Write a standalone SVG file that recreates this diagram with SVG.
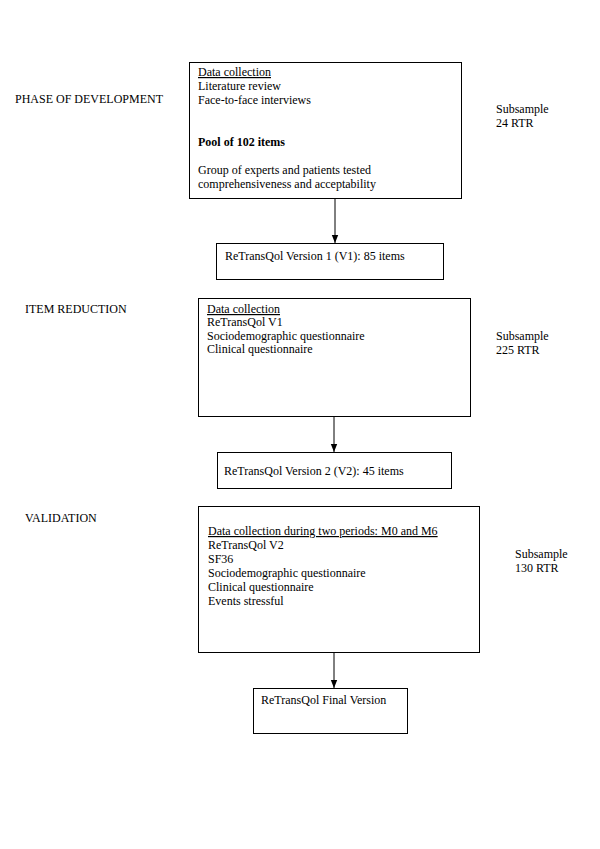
<svg xmlns="http://www.w3.org/2000/svg" width="600" height="849" viewBox="0 0 600 849">
<defs>
<style>
text{font-family:"Liberation Serif","Times New Roman",serif;font-size:12px;fill:#000}
.b{fill:#fff;stroke:#000;stroke-width:1}
.u{text-decoration:underline}
.bold{font-weight:bold}
.c{stroke:#000;stroke-width:1;fill:none}
</style>
<marker id="ah" viewBox="0 0 8 8" refX="8" refY="4" markerWidth="8" markerHeight="8" markerUnits="userSpaceOnUse" orient="auto">
<path d="M0,0.8 L8,4 L0,7.2 z" fill="#000"/>
</marker>
</defs>
<rect width="600" height="849" fill="#fff"/>
<g id="labels">
<text x="15" y="103">PHASE OF DEVELOPMENT</text>
<text x="25" y="313">ITEM REDUCTION</text>
<text x="25" y="522">VALIDATION</text>
<text x="496" y="113">Subsample</text>
<text x="496" y="127">24 RTR</text>
<text x="496" y="340">Subsample</text>
<text x="496" y="354">225 RTR</text>
<text x="515" y="558">Subsample</text>
<text x="515" y="572">130 RTR</text>
</g>
<g id="connectors">
<line class="c" x1="335" y1="198" x2="335" y2="243" marker-end="url(#ah)"/>
<line class="c" x1="334" y1="416" x2="334" y2="452" marker-end="url(#ah)"/>
<line class="c" x1="334" y1="652" x2="334" y2="688" marker-end="url(#ah)"/>
</g>
<g id="node-dev">
<rect class="b" x="189.5" y="62.5" width="272" height="136"/>
<text x="198" y="76" class="u">Data collection</text>
<text x="198" y="90">Literature review</text>
<text x="198" y="104">Face-to-face interviews</text>
<text x="198" y="146" class="bold">Pool of 102 items</text>
<text x="198" y="174">Group of experts and patients tested</text>
<text x="198" y="188">comprehensiveness and acceptability</text>
</g>
<g id="node-v1">
<rect class="b" x="216.5" y="243.5" width="227" height="36"/>
<text x="225" y="260">ReTransQol Version 1 (V1): 85 items</text>
</g>
<g id="node-reduction">
<rect class="b" x="198.5" y="298.5" width="272" height="118"/>
<text x="207" y="313" class="u">Data collection</text>
<text x="207" y="326">ReTransQol V1</text>
<text x="207" y="340">Sociodemographic questionnaire</text>
<text x="207" y="353">Clinical questionnaire</text>
</g>
<g id="node-v2">
<rect class="b" x="217.5" y="452.5" width="234" height="36"/>
<text x="224" y="475">ReTransQol Version 2 (V2): 45 items</text>
</g>
<g id="node-validation">
<rect class="b" x="198.5" y="506.5" width="281" height="146"/>
<text x="208" y="535" class="u">Data collection during two periods: M0 and M6</text>
<text x="208" y="549">ReTransQol V2</text>
<text x="208" y="563">SF36</text>
<text x="208" y="577">Sociodemographic questionnaire</text>
<text x="208" y="591">Clinical questionnaire</text>
<text x="208" y="605">Events stressful</text>
</g>
<g id="node-final">
<rect class="b" x="253.5" y="688.5" width="154" height="45"/>
<text x="261" y="704">ReTransQol Final Version</text>
</g>
</svg>
